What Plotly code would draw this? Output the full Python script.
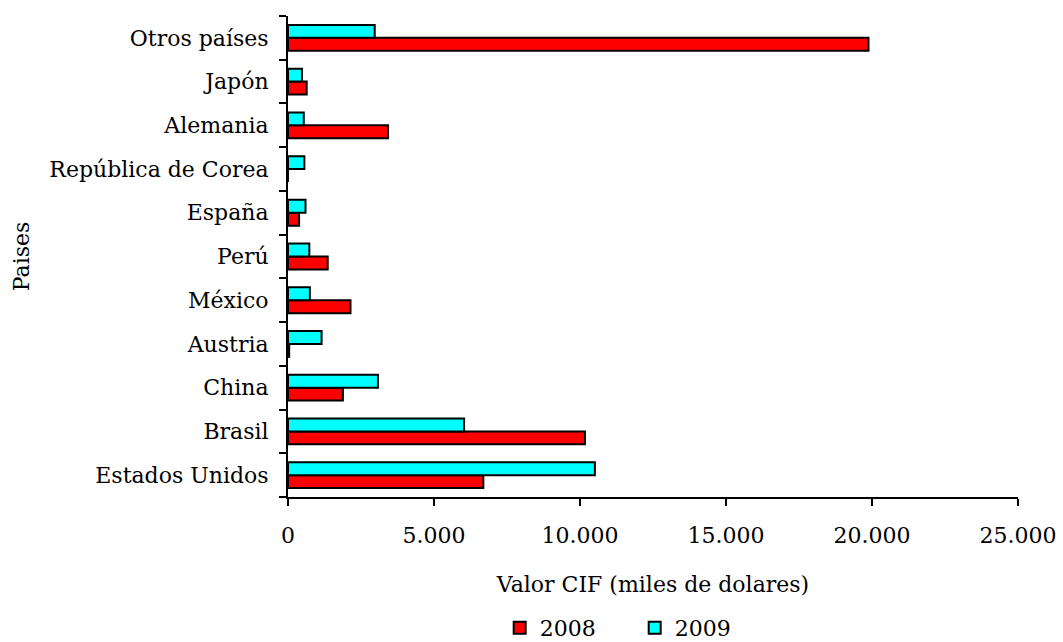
import plotly.graph_objects as go

categories = ["Estados Unidos", "Brasil", "China", "Austria", "México", "Perú",
              "España", "República de Corea", "Alemania", "Japón", "Otros países"]
values_2008 = [6690, 10170, 1880, 40, 2140, 1360, 380, 0, 3425, 640, 19880]
values_2009 = [10510, 6030, 3080, 1150, 750, 730, 600, 560, 540, 480, 2970]
x_ticks = [0, 5000, 10000, 15000, 20000, 25000]

FONT = "DejaVu Serif"
FS = 22

fig = go.Figure()
fig.add_trace(go.Bar(y=categories, x=values_2008, orientation="h", name="2008",
                     marker=dict(color="#FF0000", line=dict(color="black", width=2))))
fig.add_trace(go.Bar(y=categories, x=values_2009, orientation="h", name="2009",
                     marker=dict(color="#00FFFF", line=dict(color="black", width=2))))

fig.update_layout(
    width=1063, height=642,
    margin=dict(l=288, r=45, t=16, b=145, autoexpand=False),
    plot_bgcolor="white", paper_bgcolor="white",
    barmode="group", bargap=0.41, bargroupgap=0,
    separators=",.",
    font=dict(family=FONT, size=FS, color="black"),
    showlegend=True,
    legend=dict(orientation="h", x=0.29, xanchor="left", y=-0.272, yanchor="middle",
                font=dict(size=FS), itemwidth=30, traceorder="normal",
                entrywidth=90, entrywidthmode="pixels", tracegroupgap=0),
    xaxis=dict(range=[0, 25000], tickvals=x_ticks, tickformat=",.0f", automargin=False,
               showline=True, linecolor="black", linewidth=2, showgrid=False, zeroline=False,
               ticks="outside", ticklen=7, tickwidth=2, tickcolor="black",
               ticklabelstandoff=11,
               title=dict(text="Valor CIF (miles de dolares)", standoff=29, font=dict(size=FS))),
    yaxis=dict(categoryorder="array", categoryarray=categories, automargin=False,
               showline=True, linecolor="black", linewidth=2, showgrid=False,
               ticks="outside", ticklen=7, tickwidth=2, tickcolor="black",
               tickson="boundaries", ticklabelstandoff=13,
               title=dict(text="Paises", standoff=14, font=dict(size=FS))),
)

fig.write_html("out.html", config={"displayModeBar": False},
               post_script="document.body.style.margin='0';")
